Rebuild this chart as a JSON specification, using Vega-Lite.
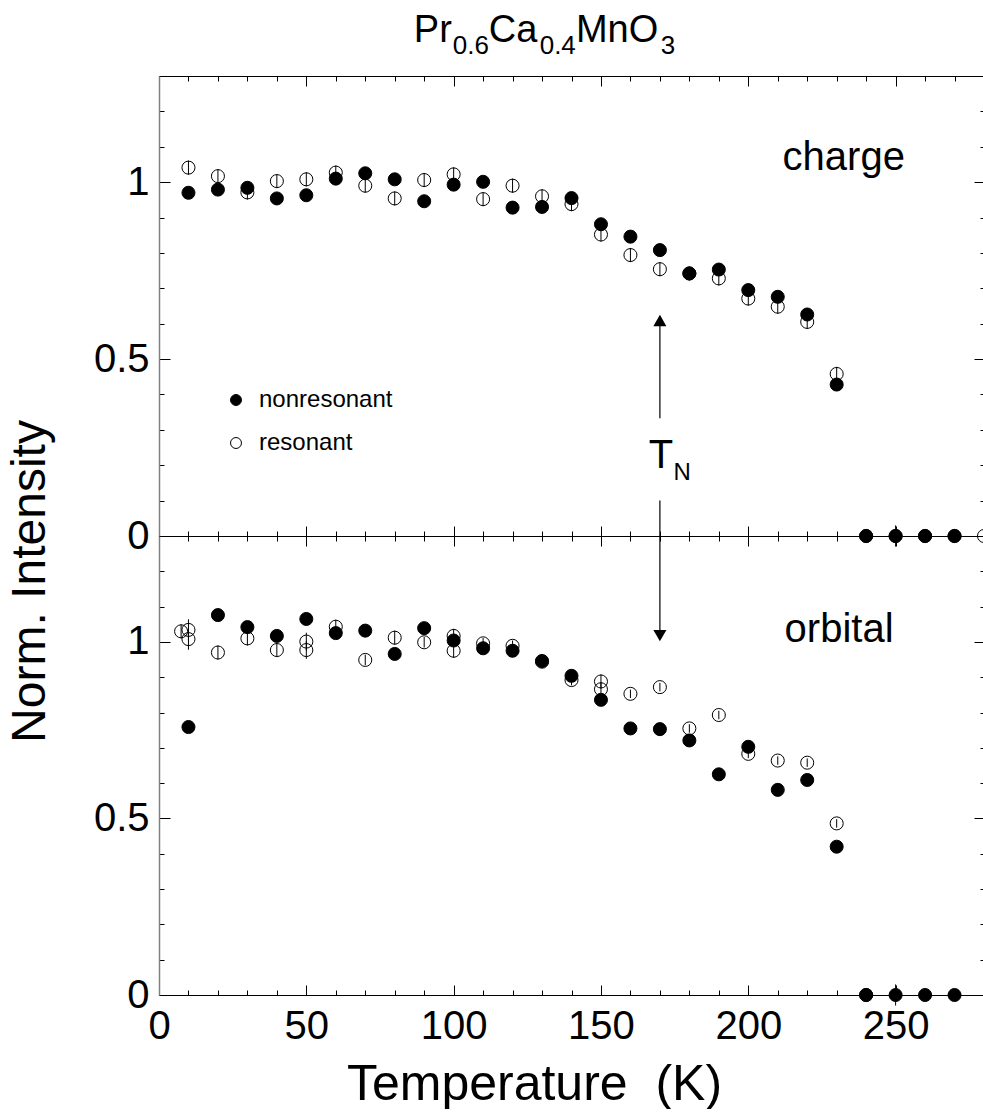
{
  "$schema": "https://vega.github.io/schema/vega-lite/v6.json",
  "padding": {"left": 5, "top": 12, "right": 0, "bottom": 0},
  "background": "white",
  "bounds": "flush",
  "spacing": 0,
  "config": {
    "view": {"stroke": null},
    "font": "Liberation Sans",
    "axis": {"grid": false, "tickColor": "black", "labelColor": "black", "titleColor": "black", "domainColor": "black", "labelFont": "Liberation Sans", "titleFont": "Liberation Sans", "titleFontWeight": "normal", "tickWidth": 1, "domainWidth": 1}
  },
  "datasets": {
    "pts": [
      {"T":10,"v":1.041,"s":"resonant","p":"charge","e":0.02},
      {"T":20,"v":1.017,"s":"resonant","p":"charge","e":0.02},
      {"T":30,"v":0.971,"s":"resonant","p":"charge","e":0.02},
      {"T":40,"v":1.003,"s":"resonant","p":"charge","e":0.02},
      {"T":50,"v":1.008,"s":"resonant","p":"charge","e":0.02},
      {"T":60,"v":1.027,"s":"resonant","p":"charge","e":0.02},
      {"T":70,"v":0.990,"s":"resonant","p":"charge","e":0.02},
      {"T":80,"v":0.954,"s":"resonant","p":"charge","e":0.02},
      {"T":90,"v":1.006,"s":"resonant","p":"charge","e":0.02},
      {"T":100,"v":1.022,"s":"resonant","p":"charge","e":0.02},
      {"T":110,"v":0.952,"s":"resonant","p":"charge","e":0.02},
      {"T":120,"v":0.990,"s":"resonant","p":"charge","e":0.02},
      {"T":130,"v":0.960,"s":"resonant","p":"charge","e":0.02},
      {"T":140,"v":0.938,"s":"resonant","p":"charge","e":0.02},
      {"T":150,"v":0.852,"s":"resonant","p":"charge","e":0.02},
      {"T":160,"v":0.794,"s":"resonant","p":"charge","e":0.02},
      {"T":170,"v":0.754,"s":"resonant","p":"charge","e":0.02},
      {"T":180,"v":0.742,"s":"resonant","p":"charge","e":0.02},
      {"T":190,"v":0.728,"s":"resonant","p":"charge","e":0.02},
      {"T":200,"v":0.671,"s":"resonant","p":"charge","e":0.02},
      {"T":210,"v":0.648,"s":"resonant","p":"charge","e":0.02},
      {"T":220,"v":0.605,"s":"resonant","p":"charge","e":0.02},
      {"T":230,"v":0.458,"s":"resonant","p":"charge","e":0.02},
      {"T":240,"v":0,"s":"resonant","p":"charge","e":0.02},
      {"T":250,"v":0,"s":"resonant","p":"charge","e":0.02},
      {"T":260,"v":0,"s":"resonant","p":"charge","e":0.02},
      {"T":270,"v":0,"s":"resonant","p":"charge","e":0.02},
      {"T":280,"v":0,"s":"resonant","p":"charge","e":0.02},
      {"T":10,"v":0.970,"s":"nonresonant","p":"charge","e":0.015},
      {"T":20,"v":0.979,"s":"nonresonant","p":"charge","e":0.015},
      {"T":30,"v":0.984,"s":"nonresonant","p":"charge","e":0.015},
      {"T":40,"v":0.954,"s":"nonresonant","p":"charge","e":0.015},
      {"T":50,"v":0.963,"s":"nonresonant","p":"charge","e":0.015},
      {"T":60,"v":1.010,"s":"nonresonant","p":"charge","e":0.015},
      {"T":70,"v":1.025,"s":"nonresonant","p":"charge","e":0.015},
      {"T":80,"v":1.008,"s":"nonresonant","p":"charge","e":0.015},
      {"T":90,"v":0.946,"s":"nonresonant","p":"charge","e":0.015},
      {"T":100,"v":0.993,"s":"nonresonant","p":"charge","e":0.015},
      {"T":110,"v":1.001,"s":"nonresonant","p":"charge","e":0.015},
      {"T":120,"v":0.928,"s":"nonresonant","p":"charge","e":0.015},
      {"T":130,"v":0.930,"s":"nonresonant","p":"charge","e":0.015},
      {"T":140,"v":0.955,"s":"nonresonant","p":"charge","e":0.015},
      {"T":150,"v":0.881,"s":"nonresonant","p":"charge","e":0.015},
      {"T":160,"v":0.846,"s":"nonresonant","p":"charge","e":0.015},
      {"T":170,"v":0.808,"s":"nonresonant","p":"charge","e":0.015},
      {"T":180,"v":0.742,"s":"nonresonant","p":"charge","e":0.015},
      {"T":190,"v":0.753,"s":"nonresonant","p":"charge","e":0.015},
      {"T":200,"v":0.695,"s":"nonresonant","p":"charge","e":0.015},
      {"T":210,"v":0.676,"s":"nonresonant","p":"charge","e":0.015},
      {"T":220,"v":0.626,"s":"nonresonant","p":"charge","e":0.015},
      {"T":230,"v":0.428,"s":"nonresonant","p":"charge","e":0.015},
      {"T":240,"v":0,"s":"nonresonant","p":"charge","e":0.015},
      {"T":250,"v":0,"s":"nonresonant","p":"charge","e":0.03},
      {"T":260,"v":0,"s":"nonresonant","p":"charge","e":0.015},
      {"T":270,"v":0,"s":"nonresonant","p":"charge","e":0.015},
      {"T":7.5,"v":1.030,"s":"resonant","p":"orbital","e":0.02},
      {"T":10,"v":1.034,"s":"resonant","p":"orbital","e":0.03},
      {"T":10,"v":1.008,"s":"resonant","p":"orbital","e":0.03},
      {"T":20,"v":0.970,"s":"resonant","p":"orbital","e":0.02},
      {"T":30,"v":1.010,"s":"resonant","p":"orbital","e":0.02},
      {"T":40,"v":0.977,"s":"resonant","p":"orbital","e":0.02},
      {"T":50,"v":1.001,"s":"resonant","p":"orbital","e":0.025},
      {"T":50,"v":0.977,"s":"resonant","p":"orbital","e":0.025},
      {"T":60,"v":1.043,"s":"resonant","p":"orbital","e":0.02},
      {"T":70,"v":0.949,"s":"resonant","p":"orbital","e":0.015},
      {"T":80,"v":1.012,"s":"resonant","p":"orbital","e":0.02},
      {"T":90,"v":0.999,"s":"resonant","p":"orbital","e":0.015},
      {"T":100,"v":1.017,"s":"resonant","p":"orbital","e":0.02},
      {"T":100,"v":0.975,"s":"resonant","p":"orbital","e":0.02},
      {"T":110,"v":0.996,"s":"resonant","p":"orbital","e":0.015},
      {"T":120,"v":0.989,"s":"resonant","p":"orbital","e":0.015},
      {"T":130,"v":0.944,"s":"resonant","p":"orbital","e":0.015},
      {"T":140,"v":0.892,"s":"resonant","p":"orbital","e":0.015},
      {"T":150,"v":0.888,"s":"resonant","p":"orbital","e":0.02},
      {"T":150,"v":0.866,"s":"resonant","p":"orbital","e":0.02},
      {"T":160,"v":0.853,"s":"resonant","p":"orbital","e":0.012},
      {"T":170,"v":0.872,"s":"resonant","p":"orbital","e":0.012},
      {"T":180,"v":0.755,"s":"resonant","p":"orbital","e":0.012},
      {"T":190,"v":0.793,"s":"resonant","p":"orbital","e":0.012},
      {"T":200,"v":0.683,"s":"resonant","p":"orbital","e":0.012},
      {"T":210,"v":0.664,"s":"resonant","p":"orbital","e":0.012},
      {"T":220,"v":0.658,"s":"resonant","p":"orbital","e":0.012},
      {"T":230,"v":0.486,"s":"resonant","p":"orbital","e":0.012},
      {"T":240,"v":0,"s":"resonant","p":"orbital","e":0.012},
      {"T":10,"v":0.759,"s":"nonresonant","p":"orbital","e":0.015},
      {"T":20,"v":1.076,"s":"nonresonant","p":"orbital","e":0.015},
      {"T":30,"v":1.042,"s":"nonresonant","p":"orbital","e":0.015},
      {"T":40,"v":1.017,"s":"nonresonant","p":"orbital","e":0.015},
      {"T":50,"v":1.065,"s":"nonresonant","p":"orbital","e":0.015},
      {"T":60,"v":1.025,"s":"nonresonant","p":"orbital","e":0.015},
      {"T":70,"v":1.032,"s":"nonresonant","p":"orbital","e":0.015},
      {"T":80,"v":0.966,"s":"nonresonant","p":"orbital","e":0.015},
      {"T":90,"v":1.039,"s":"nonresonant","p":"orbital","e":0.015},
      {"T":100,"v":1.004,"s":"nonresonant","p":"orbital","e":0.015},
      {"T":110,"v":0.982,"s":"nonresonant","p":"orbital","e":0.015},
      {"T":120,"v":0.975,"s":"nonresonant","p":"orbital","e":0.015},
      {"T":130,"v":0.946,"s":"nonresonant","p":"orbital","e":0.015},
      {"T":140,"v":0.904,"s":"nonresonant","p":"orbital","e":0.015},
      {"T":150,"v":0.836,"s":"nonresonant","p":"orbital","e":0.015},
      {"T":160,"v":0.755,"s":"nonresonant","p":"orbital","e":0.015},
      {"T":170,"v":0.753,"s":"nonresonant","p":"orbital","e":0.015},
      {"T":180,"v":0.721,"s":"nonresonant","p":"orbital","e":0.015},
      {"T":190,"v":0.625,"s":"nonresonant","p":"orbital","e":0.015},
      {"T":200,"v":0.703,"s":"nonresonant","p":"orbital","e":0.015},
      {"T":210,"v":0.581,"s":"nonresonant","p":"orbital","e":0.015},
      {"T":220,"v":0.609,"s":"nonresonant","p":"orbital","e":0.015},
      {"T":230,"v":0.420,"s":"nonresonant","p":"orbital","e":0.015},
      {"T":240,"v":0,"s":"nonresonant","p":"orbital","e":0.015},
      {"T":250,"v":0,"s":"nonresonant","p":"orbital","e":0.03},
      {"T":260,"v":0,"s":"nonresonant","p":"orbital","e":0.015},
      {"T":270,"v":0,"s":"nonresonant","p":"orbital","e":0.015}
    ]
  },
  "vconcat": [
    {
      "width": 825,
      "height": 460,
      "layer": [
        {
          "data": {"name": "pts"},
          "transform": [{"filter": "datum.p === 'charge'"}],
          "mark": {"type": "errorbar", "color": "black", "thickness": 1},
          "encoding": {
            "x": {"field": "T", "type": "quantitative", "scale": {"domain": [0, 280], "nice": false, "zero": false}, "axis": null},
            "y": {"field": "v", "type": "quantitative", "scale": {"domain": [0, 1.3], "nice": false}, "axis": null},
            "yError": {"field": "e"}
          }
        },
        {
          "data": {"name": "pts"},
          "transform": [{"filter": "datum.p === 'charge'"}],
          "mark": {"type": "point", "filled": true, "stroke": "black", "strokeWidth": 1, "size": 170, "opacity": 1},
          "encoding": {
            "x": {"field": "T", "type": "quantitative", "scale": {"domain": [0, 280], "nice": false, "zero": false},
              "axis": {"orient": "bottom", "values": [0,10,20,30,40,50,60,70,80,90,100,110,120,130,140,150,160,170,180,190,200,210,220,230,240,250,260,270,280], "labels": false, "title": null, "tickSize": -10, "tickDash": {"condition": {"test": "datum.value % 50 !== 0", "value": [5, 50]}, "value": [50, 1]}}},
            "y": {"field": "v", "type": "quantitative", "scale": {"domain": [0, 1.3], "nice": false},
              "axis": {"orient": "left", "values": [0,0.1,0.2,0.3,0.4,0.5,0.6,0.7,0.8,0.9,1,1.1,1.2,1.3], "format": ".1~f", "labelExpr": "datum.value % 0.5 === 0 ? datum.label : ''", "labelFontSize": 40, "labelPadding": 21, "tickSize": -11, "tickDash": {"condition": {"test": "datum.value % 0.5 !== 0", "value": [5, 50]}, "value": [50, 1]}, "domainColor": "#808080", "domainWidth": 1.5, "title": null, "labelOverlap": false, "labelBound": false, "labelFlush": false}},
            "fill": {"field": "s", "type": "nominal", "scale": {"domain": ["nonresonant", "resonant"], "range": ["black", "transparent"]},
              "legend": {"orient": "none", "legendX": 65, "legendY": 312, "title": null, "labelFontSize": 24, "labelFont": "Liberation Sans", "labelColor": "black", "symbolSize": 120, "symbolType": "circle", "symbolStrokeColor": "black", "symbolStrokeWidth": 1, "symbolOpacity": 1, "rowPadding": 19, "labelOffset": 11, "padding": 0}}
          }
        },
        {
          "data": {"values": [{}]},
          "mark": {"type": "text", "text": "charge", "fontSize": 40, "align": "center", "baseline": "alphabetic", "color": "black"},
          "encoding": {"x": {"datum": 232.4, "type": "quantitative", "axis": null}, "y": {"datum": 1.034, "type": "quantitative", "axis": null}}
        },
        {
          "data": {"values": [{}]},
          "mark": {"type": "text", "text": "Pr", "fontSize": 38, "align": "left", "baseline": "alphabetic", "color": "black"},
          "encoding": {"x": {"datum": 86.5, "type": "quantitative", "axis": null}, "y": {"datum": 1.396, "type": "quantitative", "axis": null}}
        },
        {
          "data": {"values": [{}]},
          "mark": {"type": "text", "text": "0.6", "fontSize": 26, "align": "left", "baseline": "alphabetic", "color": "black"},
          "encoding": {"x": {"datum": 99.7, "type": "quantitative", "axis": null}, "y": {"datum": 1.363, "type": "quantitative", "axis": null}}
        },
        {
          "data": {"values": [{}]},
          "mark": {"type": "text", "text": "Ca", "fontSize": 38, "align": "left", "baseline": "alphabetic", "color": "black"},
          "encoding": {"x": {"datum": 111.9, "type": "quantitative", "axis": null}, "y": {"datum": 1.396, "type": "quantitative", "axis": null}}
        },
        {
          "data": {"values": [{}]},
          "mark": {"type": "text", "text": "0.4", "fontSize": 26, "align": "left", "baseline": "alphabetic", "color": "black"},
          "encoding": {"x": {"datum": 129.2, "type": "quantitative", "axis": null}, "y": {"datum": 1.363, "type": "quantitative", "axis": null}}
        },
        {
          "data": {"values": [{}]},
          "mark": {"type": "text", "text": "MnO", "fontSize": 38, "align": "left", "baseline": "alphabetic", "color": "black"},
          "encoding": {"x": {"datum": 141.5, "type": "quantitative", "axis": null}, "y": {"datum": 1.396, "type": "quantitative", "axis": null}}
        },
        {
          "data": {"values": [{}]},
          "mark": {"type": "text", "text": "3", "fontSize": 26, "align": "left", "baseline": "alphabetic", "color": "black"},
          "encoding": {"x": {"datum": 170.3, "type": "quantitative", "axis": null}, "y": {"datum": 1.363, "type": "quantitative", "axis": null}}
        },
        {
          "data": {"values": [{}]},
          "mark": {"type": "text", "text": "T", "fontSize": 40, "align": "center", "baseline": "alphabetic", "color": "black"},
          "encoding": {"x": {"datum": 170.4, "type": "quantitative", "axis": null}, "y": {"datum": 0.192, "type": "quantitative", "axis": null}}
        },
        {
          "data": {"values": [{}]},
          "mark": {"type": "text", "text": "N", "fontSize": 24, "align": "center", "baseline": "alphabetic", "color": "black"},
          "encoding": {"x": {"datum": 177.6, "type": "quantitative", "axis": null}, "y": {"datum": 0.158, "type": "quantitative", "axis": null}}
        },
        {
          "data": {"values": [{}]},
          "mark": {"type": "rule", "color": "black", "strokeWidth": 1.2},
          "encoding": {"x": {"datum": 170, "type": "quantitative", "axis": null}, "y": {"datum": 0.333, "type": "quantitative", "axis": null}, "y2": {"datum": 0.61}}
        },
        {
          "data": {"values": [{}]},
          "mark": {"type": "rule", "color": "black", "strokeWidth": 1.2},
          "encoding": {"x": {"datum": 170, "type": "quantitative", "axis": null}, "y": {"datum": 0, "type": "quantitative", "axis": null}, "y2": {"datum": 0.1}}
        },
        {
          "data": {"values": [{}]},
          "mark": {"type": "point", "shape": "triangle-up", "filled": true, "color": "black", "size": 170, "opacity": 1},
          "encoding": {
            "x": {"datum": 170, "type": "quantitative", "scale": {"domain": [0, 280], "nice": false, "zero": false},
              "axis": {"orient": "top", "values": [0,10,20,30,40,50,60,70,80,90,100,110,120,130,140,150,160,170,180,190,200,210,220,230,240,250,260,270,280], "labels": false, "title": null, "tickSize": -10, "tickDash": {"condition": {"test": "datum.value % 50 !== 0", "value": [5, 50]}, "value": [50, 1]}}},
            "y": {"datum": 0.609, "type": "quantitative", "scale": {"domain": [0, 1.3], "nice": false},
              "axis": {"orient": "right", "values": [0,0.1,0.2,0.3,0.4,0.5,0.6,0.7,0.8,0.9,1,1.1,1.2,1.3], "labels": false, "title": null, "tickSize": -10, "tickDash": {"condition": {"test": "datum.value % 0.5 !== 0", "value": [4, 50]}, "value": [50, 1]}}}
          }
        }
      ],
      "resolve": {"axis": {"x": "independent", "y": "independent"}}
    },
    {
      "width": 825,
      "height": 459,
      "layer": [
        {
          "data": {"name": "pts"},
          "transform": [{"filter": "datum.p === 'orbital'"}],
          "mark": {"type": "errorbar", "color": "black", "thickness": 1},
          "encoding": {
            "x": {"field": "T", "type": "quantitative", "scale": {"domain": [0, 280], "nice": false, "zero": false}, "axis": null},
            "y": {"field": "v", "type": "quantitative", "scale": {"domain": [0, 1.3], "nice": false}, "axis": null},
            "yError": {"field": "e"}
          }
        },
        {
          "data": {"name": "pts"},
          "transform": [{"filter": "datum.p === 'orbital'"}],
          "mark": {"type": "point", "filled": true, "stroke": "black", "strokeWidth": 1, "size": 170, "opacity": 1},
          "encoding": {
            "x": {"field": "T", "type": "quantitative", "scale": {"domain": [0, 280], "nice": false, "zero": false},
              "axis": {"orient": "bottom", "values": [0,10,20,30,40,50,60,70,80,90,100,110,120,130,140,150,160,170,180,190,200,210,220,230,240,250,260,270,280], "labelExpr": "datum.value % 50 === 0 ? datum.label : ''", "labelFontSize": 40, "labelPadding": 21, "labelOverlap": false, "labelFlush": false, "labelBound": false, "tickSize": -10, "tickDash": {"condition": {"test": "datum.value % 50 !== 0", "value": [5, 50]}, "value": [50, 1]}, "title": "Temperature\u00a0 (K)", "titleFontSize": 50, "titleX": 375, "titleY": 104, "titleAlign": "center", "titleBaseline": "alphabetic"}},
            "y": {"field": "v", "type": "quantitative", "scale": {"domain": [0, 1.3], "nice": false},
              "axis": {"orient": "left", "values": [0,0.1,0.2,0.3,0.4,0.5,0.6,0.7,0.8,0.9,1,1.1,1.2,1.3], "format": ".1~f", "labelExpr": "datum.value % 0.5 === 0 ? datum.label : ''", "labelFontSize": 40, "labelPadding": 21, "tickSize": -11, "tickDash": {"condition": {"test": "datum.value % 0.5 !== 0", "value": [5, 50]}, "value": [50, 1]}, "domainColor": "#808080", "domainWidth": 1.5, "labelOverlap": false, "labelBound": false, "labelFlush": false, "title": "Norm. Intensity", "titleFontSize": 48, "titleAngle": 270, "titleX": -129, "titleY": 45, "titleAlign": "center", "titleBaseline": "middle"}},
            "fill": {"field": "s", "type": "nominal", "scale": {"domain": ["nonresonant", "resonant"], "range": ["black", "transparent"]}, "legend": null}
          }
        },
        {
          "data": {"values": [{}]},
          "mark": {"type": "text", "text": "orbital", "fontSize": 40, "align": "center", "baseline": "alphabetic", "color": "black"},
          "encoding": {"x": {"datum": 230.8, "type": "quantitative", "axis": null}, "y": {"datum": 1.001, "type": "quantitative", "axis": null}}
        },
        {
          "data": {"values": [{}]},
          "mark": {"type": "rule", "color": "black", "strokeWidth": 1.2},
          "encoding": {"x": {"datum": 170, "type": "quantitative", "axis": null}, "y": {"datum": 1.018, "type": "quantitative", "axis": null}, "y2": {"datum": 1.3}}
        },
        {
          "data": {"values": [{}]},
          "mark": {"type": "point", "shape": "triangle-down", "filled": true, "color": "black", "size": 170, "opacity": 1},
          "encoding": {
            "x": {"datum": 170, "type": "quantitative", "scale": {"domain": [0, 280], "nice": false, "zero": false},
              "axis": {"orient": "top", "values": [0,10,20,30,40,50,60,70,80,90,100,110,120,130,140,150,160,170,180,190,200,210,220,230,240,250,260,270,280], "labels": false, "title": null, "tickSize": -10, "tickDash": {"condition": {"test": "datum.value % 50 !== 0", "value": [5, 50]}, "value": [50, 1]}}},
            "y": {"datum": 1.018, "type": "quantitative", "scale": {"domain": [0, 1.3], "nice": false},
              "axis": {"orient": "right", "values": [0,0.1,0.2,0.3,0.4,0.5,0.6,0.7,0.8,0.9,1,1.1,1.2,1.3], "labels": false, "title": null, "tickSize": -10, "tickDash": {"condition": {"test": "datum.value % 0.5 !== 0", "value": [4, 50]}, "value": [50, 1]}}}
          }
        }
      ],
      "resolve": {"axis": {"x": "independent", "y": "independent"}}
    }
  ]
}
